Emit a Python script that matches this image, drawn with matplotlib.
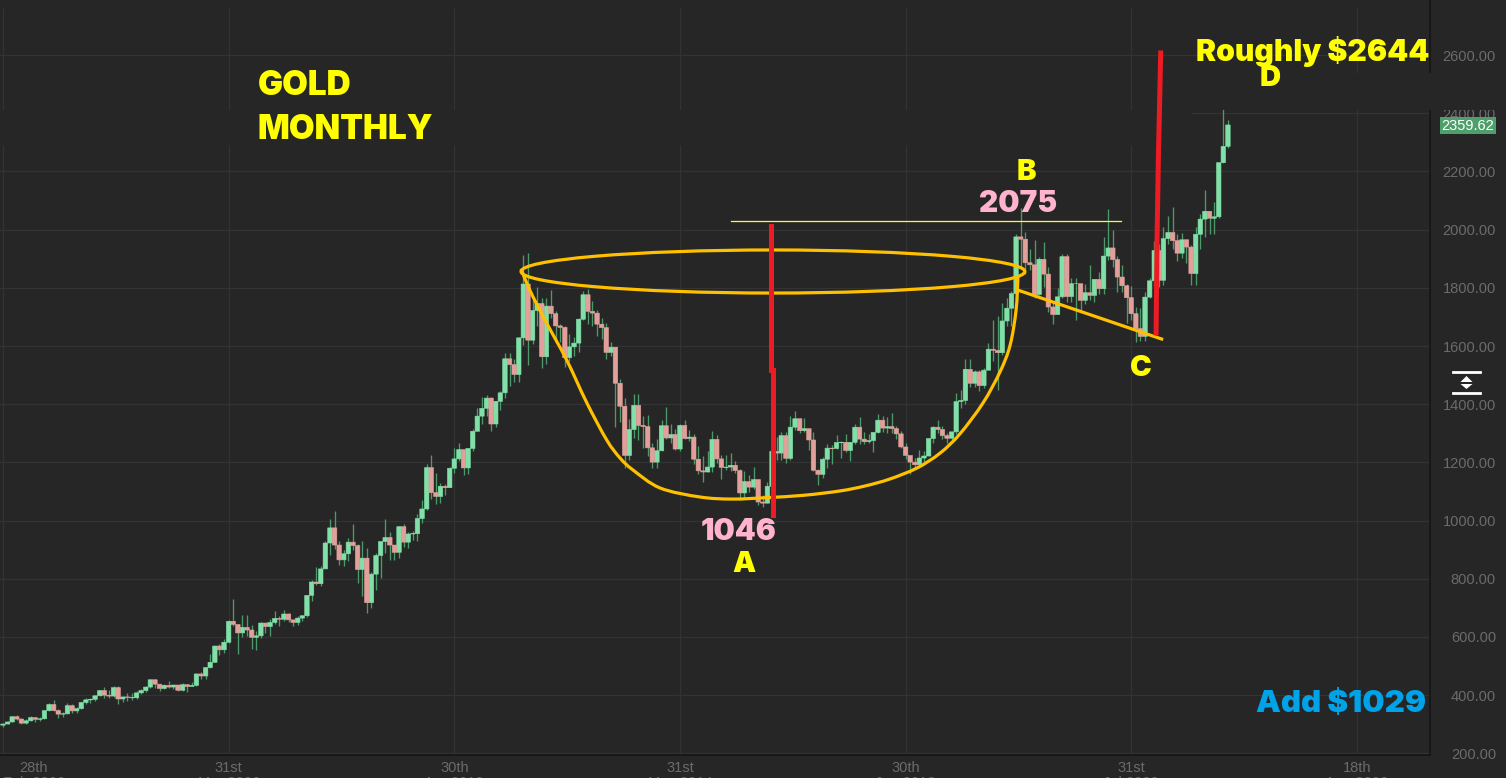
import numpy as np
import matplotlib
matplotlib.use("Agg")
import matplotlib.pyplot as plt
from matplotlib.patches import Ellipse, Rectangle, Polygon, PathPatch
from matplotlib.path import Path
from matplotlib.transforms import ScaledTranslation

plt.rcParams['font.family'] = ['Liberation Sans', 'DejaVu Sans']

# monthly candles, first one sits on the "28th Feb 2002" gridline
opens = [297,301,308,326,318,304,312,323,317,319,
 347,368,347,335,336,364,346,354,375,384,386,398,
 416,400,397,426,387,394,393,391,408,416,428,453,
 438,423,434,428,435,417,436,430,434,473,466,495,
 513,569,556,582,654,643,614,633,624,599,604,648,
 636,650,664,661,679,659,650,665,673,743,789,783,
 834,923,975,916,865,886,926,914,832,871,718,816,
 880,928,942,916,891,979,926,954,955,1007,1040,1182,
 1096,1083,1118,1113,1180,1212,1244,1181,1248,1307,1359,1386,
 1421,1332,1410,1439,1556,1536,1502,1628,1813,1620,1722,1746,
 1563,1737,1711,1669,1664,1560,1597,1610,1692,1776,1719,1713,
 1675,1663,1578,1596,1472,1393,1224,1313,1396,1327,1323,1250,
 1201,1240,1326,1284,1296,1246,1327,1282,1287,1211,1171,1167,
 1184,1279,1212,1183,1184,1190,1172,1095,1134,1115,1141,1064,
 1060,1118,1238,1232,1292,1214,1321,1350,1309,1316,1277,1173,
 1159,1211,1249,1248,1268,1269,1241,1269,1321,1280,1271,1275,
 1303,1345,1318,1323,1316,1298,1253,1224,1201,1192,1215,1222,
 1282,1321,1313,1292,1283,1305,1409,1413,1520,1472,1511,1464,
 1517,1589,1585,1577,1686,1730,1780,1975,1967,1886,1879,1777,
 1898,1847,1734,1708,1769,1907,1770,1814,1814,1757,1783,1774,
 1829,1797,1909,1937,1897,1837,1807,1766,1711,1660,1633,1768,
 1824,1928,1826,1969,1990,1962,1919,1965,1940,1849,1984,2036,
 2063,2039,2044,2230,2286]
closes = [301,308,326,318,304,312,323,317,319,347,
 368,347,335,336,364,346,354,375,384,386,398,416,
 400,397,426,387,394,393,391,408,416,428,453,438,
 423,434,428,435,417,436,430,434,473,466,495,513,
 569,556,582,654,643,614,633,624,599,604,648,636,
 650,664,661,679,659,650,665,673,743,789,783,834,
 923,975,916,865,886,926,914,832,871,718,816,880,
 928,942,916,891,979,926,954,955,1007,1040,1182,1096,
 1083,1118,1113,1180,1212,1244,1181,1248,1307,1359,1386,1421,
 1332,1410,1439,1556,1536,1502,1628,1813,1620,1722,1746,1563,
 1737,1711,1669,1664,1560,1597,1610,1692,1776,1719,1713,1675,
 1663,1578,1596,1472,1393,1224,1313,1396,1327,1323,1250,1201,
 1240,1326,1284,1296,1246,1327,1282,1287,1211,1171,1167,1184,
 1279,1212,1183,1184,1190,1172,1095,1134,1115,1141,1064,1060,
 1118,1238,1232,1292,1214,1321,1350,1309,1316,1277,1173,1159,
 1211,1249,1248,1268,1269,1241,1269,1321,1280,1271,1275,1303,
 1345,1318,1323,1316,1298,1253,1224,1201,1192,1215,1222,1282,
 1321,1313,1292,1283,1305,1409,1413,1520,1472,1511,1464,1517,
 1589,1585,1577,1686,1730,1780,1975,1967,1886,1879,1777,1898,
 1847,1734,1708,1769,1907,1770,1814,1814,1757,1783,1774,1829,
 1797,1909,1937,1897,1837,1807,1766,1711,1660,1633,1768,1824,
 1928,1826,1969,1990,1962,1919,1965,1940,1849,1984,2036,2063,
 2039,2044,2230,2286,2359.62]
highs = [304,312,329,331,321,318,330,326,325,349,
 373,382,352,341,372,370,360,378,392,390,400,417,
 428,419,430,430,398,406,408,415,420,433,456,457,
 430,437,448,436,431,441,440,445,475,480,497,541,
 570,577,592,660,730,645,677,675,640,620,650,640,
 662,690,672,692,682,660,672,675,744,795,841,845,
 930,1005,1033,930,898,940,988,920,930,907,825,890,
 931,1007,960,916,982,990,960,965,1023,1070,1195,1227,
 1163,1128,1127,1183,1249,1266,1212,1251,1315,1388,1424,1431,
 1425,1412,1447,1576,1577,1556,1632,1911,1921,1760,1804,1764,
 1764,1791,1720,1676,1668,1640,1630,1696,1790,1796,1755,1723,
 1696,1680,1615,1597,1486,1420,1348,1434,1434,1361,1362,1267,
 1280,1345,1392,1331,1316,1332,1345,1310,1296,1255,1222,1238,
 1307,1293,1224,1226,1232,1205,1176,1170,1157,1184,1142,1088,
 1131,1263,1287,1303,1304,1358,1375,1352,1354,1308,1305,1179,
 1220,1264,1261,1295,1274,1296,1270,1331,1357,1306,1299,1306,
 1366,1361,1356,1370,1326,1307,1265,1215,1214,1244,1238,1284,
 1326,1347,1324,1300,1306,1439,1450,1555,1557,1519,1516,1525,
 1611,1689,1704,1747,1765,1789,1984,2075,1992,1933,1965,1906,
 1959,1871,1755,1798,1916,1916,1832,1834,1808,1814,1877,1830,
 1853,1974,2070,1998,1909,1879,1814,1807,1735,1729,1786,1833,
 1960,1950,2010,2048,2079,1984,1987,1967,1948,2010,2052,2135,
 2065,2095,2222,2431,2376]
lows = [292,300,307,314,302,302,312,309,312,318,
 346,345,322,325,335,339,340,352,370,372,379,396,
 389,391,395,371,375,380,384,386,404,411,426,426,
 414,422,425,421,415,416,412,430,432,456,454,495,
 515,538,545,580,639,543,600,605,560,557,598,613,
 603,646,637,655,651,639,642,655,670,722,779,775,
 850,883,902,847,845,860,900,786,740,681,700,760,
 802,890,865,865,870,910,905,932,930,992,1035,1075,
 1058,1060,1088,1115,1165,1205,1157,1159,1240,1315,1333,1360,
 1308,1323,1380,1420,1462,1478,1478,1605,1534,1606,1670,1523,
 1537,1697,1612,1613,1527,1547,1565,1581,1690,1675,1670,1635,
 1625,1555,1565,1321,1339,1180,1207,1284,1277,1251,1221,1182,
 1182,1240,1280,1268,1241,1240,1281,1273,1194,1160,1131,1168,
 1167,1198,1142,1175,1170,1162,1072,1077,1098,1110,1052,1046,
 1060,1110,1208,1209,1199,1207,1310,1301,1304,1241,1171,1124,
 1145,1180,1195,1245,1215,1236,1204,1264,1262,1263,1265,1236,
 1302,1303,1300,1301,1281,1250,1211,1160,1180,1182,1196,1221,
 1267,1302,1281,1266,1266,1296,1386,1400,1459,1459,1445,1454,
 1517,1548,1450,1568,1670,1670,1757,1863,1849,1860,1764,1775,
 1802,1717,1677,1722,1765,1750,1750,1688,1721,1746,1759,1752,
 1780,1780,1895,1872,1786,1785,1680,1688,1615,1617,1616,1766,
 1804,1804,1810,1950,1932,1893,1903,1884,1810,1809,1932,1973,
 1984,1984,2039,2228,2282]

price_ticks = [200,400,600,800,1000,1200,1400,1600,1800,2000,2200,2400,2600]
date_ticks = [0,49,98,147,196,245,294]
date_labels = ["28th\nFeb 2002","31st\nMar 2006","30th\nApr 2010","31st\nMay 2014",
               "30th\nJun 2018","31st\nJul 2022","18th\nAug 2026"]

# hand drawn overlays, in month index and price
cup_x = [112.5,114.4,117.7,122.4,126.8,131.1,134,136.8,142.7,151.4,158.5,165.9,173.9,181.8,187.2,192.6,198.5,203.5,207.8,212.8,216.5,218.7,220,220.4]
cup_y = [1865,1792,1689,1552,1404,1277,1215,1174,1112,1081,1074,1079,1087,1102,1119,1143,1181,1232,1298,1404,1511,1603,1724,1837]
handle_x = [220.4,251.6]
handle_y = [1792,1624]
red1_x = [166.8,166.8,167.2,167.2]
red1_y = [2012,1518,1518,1019]
red2_x = [250.4,250.6,250.9,251.4]
red2_y = [1645,1964,2246,2607]
resist_x = [158.1,242.8]
resist_y = [2028,2028]

BG = '#262626'
W, H = 1506, 778
fig = plt.figure(figsize=(W/100, H/100), dpi=100, facecolor=BG)

# px -> axes: month 0 at x=3, 4.605 px a month; 1600 at y=346, 0.291 px a dollar
ax = fig.add_axes([0, 1-755/H, 1430/W, 755/H], facecolor=BG)
ax.set_xlim((0-3)/4.605, (1430-3)/4.605)
ax.set_ylim(1600+(346-755)/0.291, 1600+346/0.291)

ax.set_yticks(price_ticks)
ax.set_yticklabels(["%.2f" % p for p in price_ticks], color='#6b6b6b', fontsize=10.5, ha='right')
ax.yaxis.tick_right()
ax.tick_params(axis='y', length=0, pad=47.5)
ax.set_xticks(date_ticks)
ax.set_xticklabels(date_labels, color='#6b6b6b', fontsize=10.5, linespacing=1.15)
ax.tick_params(axis='x', length=0, pad=4)
lab0 = ax.get_xticklabels()[0]
lab0.set_transform(lab0.get_transform() + ScaledTranslation(31/100, 0, fig.dpi_scale_trans))
ax.grid(True, color='#333333', lw=0.9, zorder=0)
ax.set_axisbelow(True)
for s in ['top', 'left']:
    ax.spines[s].set_visible(False)
for s in ['right', 'bottom']:
    ax.spines[s].set_color('#141414')
    ax.spines[s].set_linewidth(1.1)

# gaps in the screenshot grid
strip_ylo = 1600+(346-143.5)/0.291
strip_yhi = 1600+(346-109.5)/0.291
ax.add_patch(Rectangle((ax.get_xlim()[0], strip_ylo), 1190/4.605, strip_yhi-strip_ylo, color=BG, zorder=1))
ax.add_patch(Rectangle((ax.get_xlim()[0], 1600+(346-7)/0.291), 1430/4.605, 30/0.291, color=BG, zorder=1))

x = np.arange(len(closes))
o = np.array(opens, float)
c = np.array(closes, float)
ax.vlines(x, lows, highs, color='#4c9a6a', lw=0.95, zorder=2)
up = c >= o
bars_up = ax.bar(x[up], (c-o)[up], bottom=o[up], width=0.98, color='#80e0a8', edgecolor='#80e0a8', lw=0.4, zorder=3)
bars_dn = ax.bar(x[~up], (o-c)[~up], bottom=c[~up], width=0.98, color='#e2a09b', edgecolor='#e2a09b', lw=0.4, zorder=3)
for b in list(bars_up) + list(bars_dn):
    b.set_snap(False)

ax.plot(resist_x, resist_y, color='#ffff30', lw=0.9, zorder=4)

# smooth the cup through its points with bezier segments
pts = np.column_stack([cup_x, cup_y])
verts = [pts[0]]
codes = [Path.MOVETO]
for k in range(len(pts)-1):
    p0 = pts[max(k-1, 0)]
    p1 = pts[k]
    p2 = pts[k+1]
    p3 = pts[min(k+2, len(pts)-1)]
    verts += [p1+(p2-p0)/6, p2-(p3-p1)/6, p2]
    codes += [Path.CURVE4]*3
ax.add_patch(PathPatch(Path(verts, codes), fill=False, edgecolor='#ffc000', lw=2.3, zorder=5))
ax.plot(handle_x, handle_y, color='#ffc000', lw=2.3, zorder=5)
ax.add_patch(Ellipse((167.2, 1856), 109.4, 148, fill=False, edgecolor='#ffc000', lw=2.3, zorder=5))
ax.plot(red1_x, red1_y, color='#ed1c24', lw=3.6, zorder=6, solid_joinstyle='miter')
ax.plot(red2_x, red2_y, color='#ed1c24', lw=3.6, zorder=6, solid_joinstyle='miter')

# overlay in screen pixels for the pasted labels
ov = fig.add_axes([0, 0, 1, 1], facecolor='none')
ov.set_xlim(0, W)
ov.set_ylim(H, 0)
ov.axis('off')
ov.add_patch(Rectangle((1185, 73), 321, 36.5, color=BG, lw=0))
ov.add_patch(Rectangle((1440, 117), 56, 17, color='#4f9f6c', lw=0))
ov.text(1468, 125.5, "2359.62", color='white', fontsize=10.5, ha='center', va='center')

# scale icon
ov.plot([1453,1480], [371.5,371.5], color='white', lw=2)
ov.plot([1453,1480], [393,393], color='white', lw=2)
ov.add_patch(Polygon([[1466.5,376],[1460.5,382],[1472.5,382]], color='white', lw=0))
ov.add_patch(Polygon([[1466.5,389],[1460.5,384],[1472.5,384]], color='white', lw=0))

def label(px, py, s, color='#ffff00', ha='center', size=21):
    ov.text(px, py, s, color=color, fontsize=size, fontweight=900, family=['Inter', 'Liberation Sans'],
            ha=ha, va='center')

label(258, 86, "GOLD", ha='left', size=24)
label(258, 130, "MONTHLY", ha='left', size=24)
label(1313, 51, "Roughly $2644", size=21.7)
label(1270, 78, "D")
label(1026, 172, "B")
label(1018, 204, "2075", color='#ffb3cc', size=21.5)
label(739, 532, "1046", color='#ffb3cc', size=21.5)
label(744, 564, "A")
label(1141, 368, "C")
label(1341, 704, "Add $1029", color='#00a2e8', size=22.5)

fig.savefig('out.png', dpi=100, facecolor=BG)
